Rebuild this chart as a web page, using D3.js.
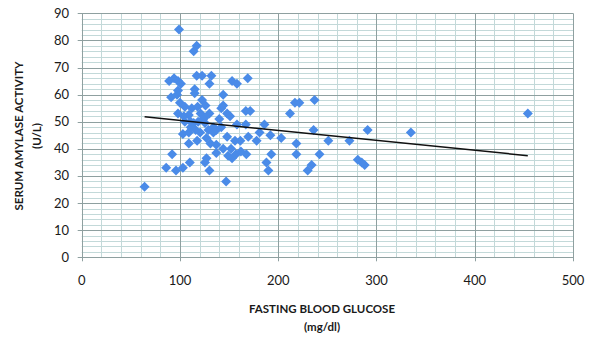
<!DOCTYPE html>
<html>
<head>
<meta charset="utf-8">
<script src="https://cdn.jsdelivr.net/npm/d3@7"></script>
<style>
  html, body { margin: 0; padding: 0; background: #ffffff; }
  svg { display: block; }
  text { font-family: Lato, "Open Sans", sans-serif; fill: #1a1a1a; }
</style>
</head>
<body>
<svg id="chart" width="591" height="341"></svg>
<script>
// Fasting blood glucose (mg/dl)
const glucose = [64, 99, 114, 117, 89, 94, 98, 101, 117, 122.5, 132, 130, 153, 158, 169, 115, 115, 91, 97, 98,
  144, 100, 105, 112, 118, 126, 144, 98, 109, 121, 125, 148, 151, 167, 171.5, 212, 217, 221.5, 237, 105,
  114, 123.5, 125.5, 134, 158, 167, 186, 192, 103, 109, 120.5, 129, 134, 148, 156, 169.5, 178, 109, 117.5, 137,
  161.5, 203, 218.5, 236, 251, 272.5, 92, 127, 137, 149, 153, 167.5, 193, 218.5, 242, 86, 96, 103, 110, 125.5,
  130, 188, 190, 230, 234, 147, 281, 285, 288, 291, 335, 454, 111, 116, 118.5, 127, 131, 137, 140, 142,
  130, 122.5, 142, 152, 157, 144, 111, 104, 181, 162];
// Serum amylase activity (U/L)
const amylase = [26, 84, 76, 78, 65, 66, 65, 64, 67, 67, 67, 64, 65, 64, 66, 62, 60.5, 59, 60, 61.5,
  60, 57, 55.5, 55, 55.5, 56, 56, 53, 52.5, 53, 51.5, 53, 52, 54, 54, 53, 57, 57, 58, 50,
  49.5, 51, 49.5, 48, 49, 49, 49, 45, 45.5, 46, 46, 47, 46, 44.5, 43, 44.5, 43, 42, 43, 41.5,
  43, 44, 42, 47, 43, 43, 38, 36.5, 38.5, 37.5, 36.5, 38, 38, 38, 38, 33, 32, 33, 35, 35,
  32, 35, 32, 32, 34, 28, 36, 35, 34, 47, 46, 53, 50, 47, 50, 44, 42, 47, 51, 55,
  53, 58, 48, 40, 38, 40, 48, 52, 46, 39];
// Linear trend line endpoints [glucose, amylase]
const trendX = [64, 454];
const trendY = [51.8, 37.5];

const xTicks = [0, 100, 200, 300, 400, 500];
const yTicks = [0, 10, 20, 30, 40, 50, 60, 70, 80, 90];
const xTitle = "FASTING BLOOD GLUCOSE";
const xUnit = "(mg/dl)";
const yTitle = "SERUM AMYLASE ACTIVITY";
const yUnit = "(U/L)";

const svg = d3.select("#chart");
const x = d3.scaleLinear().domain([0, 500]).range([81.7, 573]);
const y = d3.scaleLinear().domain([0, 90]).range([257.3, 13.3]);

const g = svg.append("g");
// minor grid
const minorX = d3.range(0, 501, 20).filter(v => v % 100 !== 0);
const minorY = d3.range(0, 91, 2).filter(v => v % 10 !== 0);
g.selectAll(".mx").data(minorX).join("line")
  .attr("x1", d => Math.round(x(d)) + 0.5).attr("x2", d => Math.round(x(d)) + 0.5)
  .attr("y1", y(90)).attr("y2", y(0)).attr("stroke", "#c3d9d9").attr("stroke-width", 1);
g.selectAll(".my").data(minorY).join("line")
  .attr("y1", d => Math.round(y(d)) + 0.5).attr("y2", d => Math.round(y(d)) + 0.5)
  .attr("x1", x(0)).attr("x2", x(500)).attr("stroke", "#c3d9d9").attr("stroke-width", 1);
// major grid
g.selectAll(".Mx").data(xTicks).join("line")
  .attr("x1", d => Math.round(x(d)) + 0.5).attr("x2", d => Math.round(x(d)) + 0.5)
  .attr("y1", y(90)).attr("y2", y(0) + 4).attr("stroke", "#8fa0a0").attr("stroke-width", 1);
g.selectAll(".My").data(yTicks).join("line")
  .attr("y1", d => Math.round(y(d)) + 0.5).attr("y2", d => Math.round(y(d)) + 0.5)
  .attr("x1", x(0) - 4).attr("x2", x(500)).attr("stroke", "#8fa0a0").attr("stroke-width", 1);

// tick labels
g.selectAll(".xl").data(xTicks).join("text")
  .attr("x", d => x(d)).attr("y", 284.5).attr("text-anchor", "middle")
  .attr("font-size", 13).text(d => d);
g.selectAll(".yl").data(yTicks).join("text")
  .attr("x", 69).attr("y", d => y(d) + 4.5).attr("text-anchor", "end")
  .attr("font-size", 13).text(d => d);

// titles
g.append("text").attr("x", 322).attr("y", 312.5).attr("text-anchor", "middle")
  .attr("font-size", 11.5).attr("font-weight", "bold").text(xTitle);
g.append("text").attr("x", 322).attr("y", 330.5).attr("text-anchor", "middle")
  .attr("font-size", 11.5).attr("font-weight", "bold").text(xUnit);
g.append("text").attr("transform", "translate(23,136) rotate(-90)").attr("text-anchor", "middle")
  .attr("font-size", 11.5).attr("font-weight", "bold").text(yTitle);
g.append("text").attr("transform", "translate(41,136) rotate(-90)").attr("text-anchor", "middle")
  .attr("font-size", 11.5).attr("font-weight", "bold").text(yUnit);

// points
const pts = glucose.map((v, i) => [v, amylase[i]]);
const diamond = "M0,-5L5,0L0,5L-5,0Z";
g.selectAll(".pt").data(pts).join("path")
  .attr("d", diamond)
  .attr("transform", d => `translate(${x(d[0])},${y(d[1])})`)
  .attr("fill", "#4a8be8");

// trend line
g.append("line")
  .attr("x1", x(trendX[0])).attr("y1", y(trendY[0]))
  .attr("x2", x(trendX[1])).attr("y2", y(trendY[1]))
  .attr("stroke", "#111").attr("stroke-width", 1.5);
</script>
</body>
</html>
